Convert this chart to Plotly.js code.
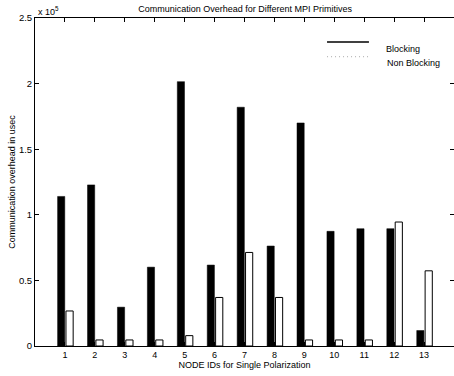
<!DOCTYPE html>
<html><head><meta charset="utf-8">
<script src="https://cdn.plot.ly/plotly-3.0.1.min.js"></script>
<style>html,body{margin:0;padding:0;background:#fff;}</style>
</head><body>
<div id="chart" style="width:454px;height:376px;"></div>
<script>
const nodeIds = [1,2,3,4,5,6,7,8,9,10,11,12,13];
const blocking = [114000,122800,29600,60100,201500,61700,182000,76200,170000,87400,89400,89400,11800];
const nonBlocking = [26700,4600,4600,4600,7900,37000,71300,37000,4600,4600,4600,94500,57300];
const seriesNames = ['Blocking','Non Blocking'];
const yTickVals = [0,50000,100000,150000,200000,250000];
const yTickText = ['0','0.5','1','1.5','2','2.5'];

const font = {family:'Liberation Sans, Arial, sans-serif', size:9, color:'#000'};

const traces = [
  {type:'bar', x:nodeIds, y:blocking, name:seriesNames[0], width:0.24, offset:-0.245,
   marker:{color:'#000', line:{color:'#000', width:0.5}}, showlegend:false},
  {type:'bar', x:nodeIds, y:nonBlocking, name:seriesNames[1], width:0.24, offset:0.035,
   marker:{color:'#fff', line:{color:'#000', width:1}}, showlegend:false}
];

const layout = {
  width:454, height:376,
  margin:{l:35, r:0, t:18, b:30},
  paper_bgcolor:'#fff', plot_bgcolor:'#fff',
  font:font,
  barmode:'overlay',
  title:{text:'Communication Overhead for Different MPI Primitives', font:{...font, size:9}, x:0.54, xanchor:'center', y:0.985, yanchor:'top'},
  xaxis:{range:[0,14], tickvals:nodeIds, ticks:'inside', ticklen:4, tickcolor:'#000',
    showline:true, linecolor:'#000', linewidth:1, mirror:'ticks', showgrid:false, zeroline:false,
    tickfont:font, title:{text:'NODE IDs for Single Polarization', font:font, standoff:2}},
  yaxis:{range:[0,250000], tickvals:yTickVals, ticktext:yTickText, ticks:'inside', ticklen:4, tickcolor:'#000',
    showline:true, linecolor:'#000', linewidth:1, mirror:'ticks', showgrid:false, zeroline:false,
    tickfont:{...font, size:9.5}, title:{text:'Communication overhead in usec', font:font, standoff:1}},
  shapes:[
    {type:'line', xref:'paper', yref:'paper', x0:0.697, x1:0.797, y0:0.927, y1:0.927, line:{color:'#000', width:1.5}},
    {type:'line', xref:'paper', yref:'paper', x0:0.697, x1:0.797, y0:0.882, y1:0.882, line:{color:'#aaa', width:1, dash:'1px,3px'}}
  ],
  annotations:[
    {xref:'paper', yref:'paper', x:0.832, y:0.906, text:seriesNames[0], showarrow:false, xanchor:'left', yanchor:'middle', font:font},
    {xref:'paper', yref:'paper', x:0.835, y:0.862, text:seriesNames[1], showarrow:false, xanchor:'left', yanchor:'middle', font:font},
    {xref:'paper', yref:'paper', x:0.002, y:1.0, text:'x 10<sup>5</sup>', showarrow:false, xanchor:'left', yanchor:'bottom', font:font, yshift:-1}
  ]
};

Plotly.newPlot('chart', traces, layout, {displayModeBar:false, staticPlot:true});
</script>
</body></html>
